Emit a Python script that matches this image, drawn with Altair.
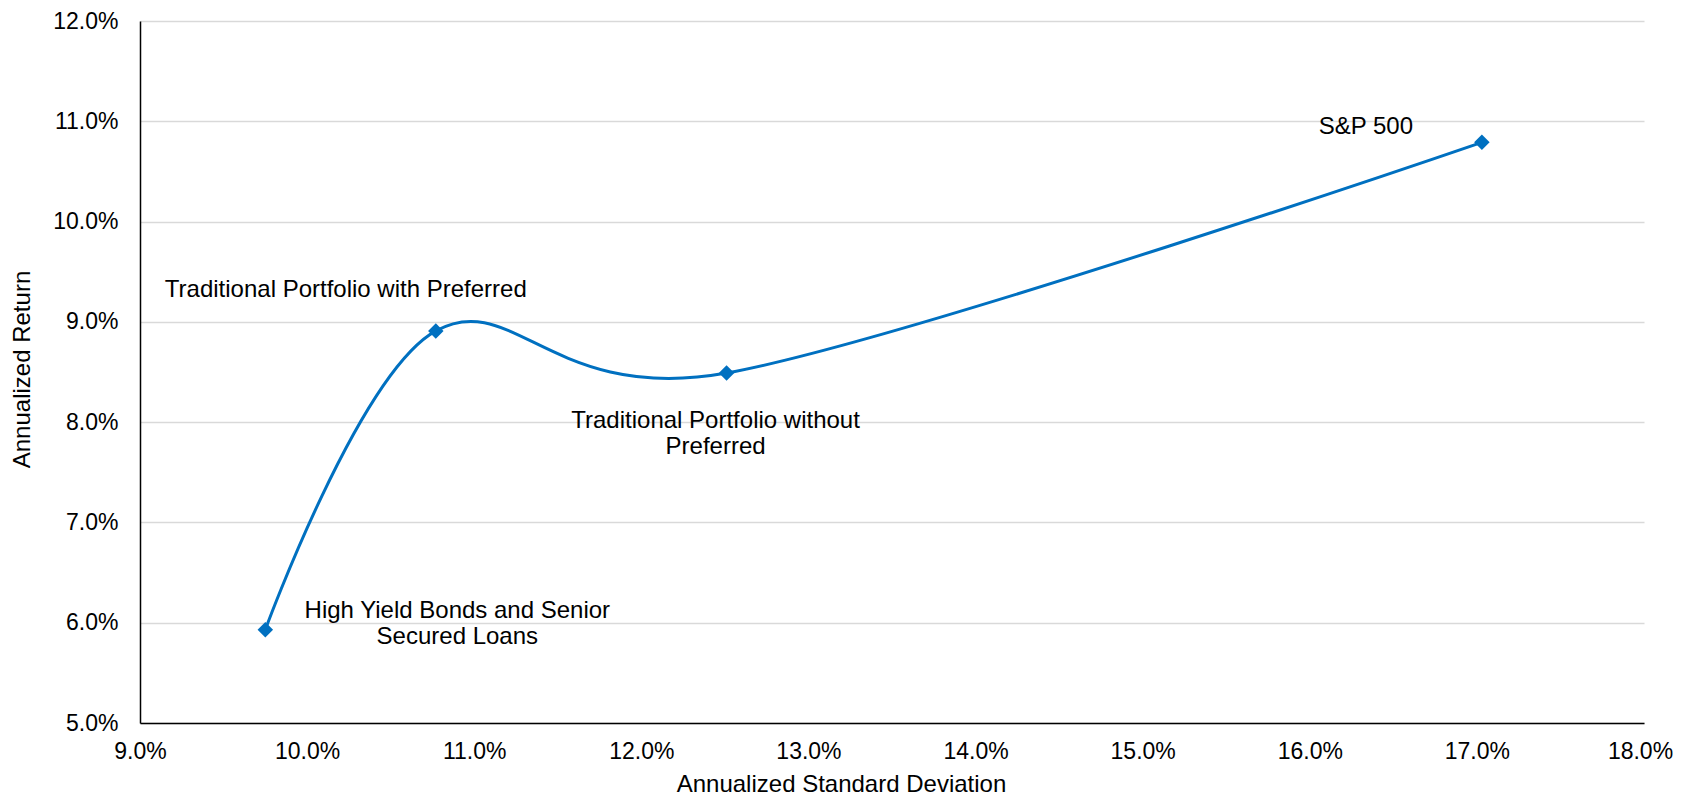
import altair as alt
import pandas as pd

names = [
    "High Yield Bonds and Senior\nSecured Loans",
    "Traditional Portfolio with Preferred",
    "Traditional Portfolio without\nPreferred",
    "S&P 500",
]
std_dev = [0.0975, 0.1077, 0.1251, 0.1703]
ann_return = [0.0593, 0.0891, 0.0849, 0.1079]

x_ticks = [0.09, 0.10, 0.11, 0.12, 0.13, 0.14, 0.15, 0.16, 0.17, 0.18]
y_ticks = [0.05, 0.06, 0.07, 0.08, 0.09, 0.10, 0.11, 0.12]

# label offsets (pixels) relative to each point: (dx, dy)
label_offsets = [(192, -12), (-90, -34), (-11, 55), (-116, -8)]

df = pd.DataFrame({"name": names, "sd": std_dev, "ret": ann_return})

FONT = "Liberation Sans"
BLUE = "#0070C0"
FS = 24
TFS = 23

x_enc = alt.X(
    "sd:Q",
    scale=alt.Scale(domain=[0.09, 0.18], nice=False, zero=False),
    axis=alt.Axis(
        title="Annualized Standard Deviation",
        format=".1%",
        values=x_ticks,
        grid=False,
        ticks=False,
        tickSize=0,
        labelPadding=17,
        labelOffset=alt.ExprRef("datum.value > 0.175 ? -4 : 0"),
        domainColor="black",
        domainWidth=1.5,
        labelFontSize=TFS,
        labelColor="black",
        labelFont=FONT,
        titleFont=FONT,
        titleFontSize=FS,
        titleFontWeight="normal",
        titleColor="black",
        titleX=701,
        titleY=68,
        titleBaseline="alphabetic",
        titleAnchor="start",
        titleAlign="center",
        labelOverlap=False,
        labelFlush=False,
    ),
)
y_enc = alt.Y(
    "ret:Q",
    scale=alt.Scale(domain=[0.05, 0.12], nice=False, zero=False),
    axis=alt.Axis(
        title="Annualized Return",
        format=".1%",
        values=y_ticks,
        grid=True,
        gridColor="#D9D9D9",
        gridWidth=1.3,
        ticks=False,
        tickSize=0,
        labelPadding=22,
        domainColor="black",
        domainWidth=1.5,
        labelFontSize=TFS,
        labelColor="black",
        labelFont=FONT,
        labelBaseline="middle",
        titleFont=FONT,
        titleFontSize=FS,
        titleFontWeight="normal",
        titleColor="black",
        titleAngle=-90,
        titleX=-118,
        titleY=348,
        titleBaseline="middle",
        titleAlign="center",
        labelOverlap=False,
        labelFlush=False,
    ),
)

line = alt.Chart(df).mark_line(
    interpolate="cardinal", color=BLUE, strokeWidth=3
).encode(x=x_enc, y=y_enc)

pts = alt.Chart(df).mark_point(
    shape="diamond", filled=True, color=BLUE, size=240, opacity=1
).encode(x="sd:Q", y="ret:Q")

layers = [line, pts]
for i, (dx, dy) in enumerate(label_offsets):
    layers.append(
        alt.Chart(df.iloc[[i]]).mark_text(
            font=FONT,
            fontSize=FS,
            color="black",
            align="center",
            baseline="alphabetic",
            lineBreak="\n",
            lineHeight=26,
            dx=dx,
            dy=dy,
        ).encode(x="sd:Q", y="ret:Q", text="name:N")
    )

chart = (
    alt.layer(*layers)
    .properties(
        width=1504,
        height=702,
        autosize=alt.AutoSizeParams(type="none"),
        padding={"left": 132, "top": 13, "right": 29, "bottom": 74},
        background="white",
    )
    .configure_view(stroke=None)
)

chart.save("out.html", embed_options={"renderer": "svg", "actions": False})
